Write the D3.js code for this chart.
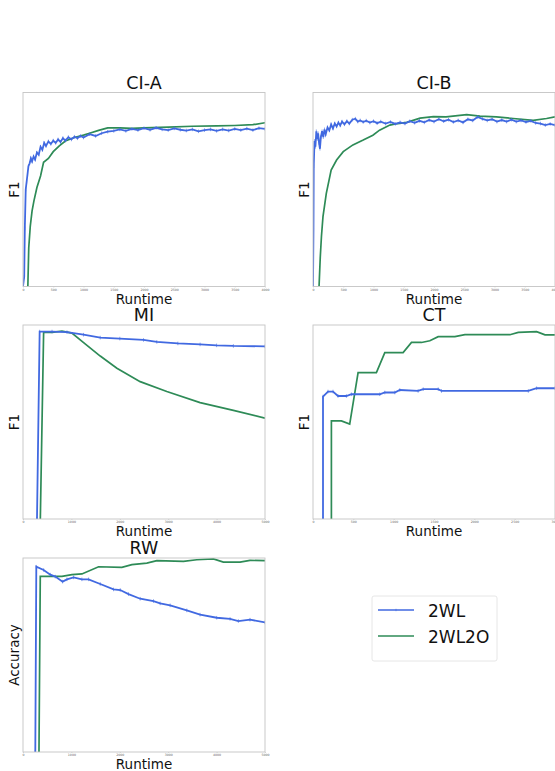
<!DOCTYPE html>
<html>
<head>
<meta charset="utf-8">
<script src="https://cdn.jsdelivr.net/npm/d3@7"></script>
<style>
  html, body { margin: 0; padding: 0; background: #fff; }
  svg { display: block; font-family: "DejaVu Sans", sans-serif; }
</style>
</head>
<body>
<svg id="chart" width="555" height="771"></svg>
<script>
// series: [runtime, score] pairs (score as fraction of the axis)
const ciaBlue = [[0,0],[20,0.05],[30,0.3],[45,0.5],[60,0.54],[75,0.58],[90,0.62],[110,0.635],[130,0.66],[150,0.645],[175,0.67],[200,0.655],[230,0.69],[260,0.68],[290,0.72],[320,0.705],[350,0.74],[380,0.725],[420,0.748],[460,0.735],[500,0.752],[540,0.74],[580,0.758],[620,0.745],[660,0.765],[700,0.752],[750,0.77],[800,0.758],[850,0.772],[900,0.764],[950,0.776],[1000,0.768],[1100,0.785],[1200,0.776],[1300,0.79],[1400,0.798],[1500,0.802],[1600,0.81],[1700,0.802],[1800,0.812],[1900,0.806],[2000,0.816],[2100,0.808],[2200,0.818],[2300,0.81],[2400,0.806],[2500,0.815],[2600,0.808],[2700,0.804],[2800,0.81],[2900,0.80],[3000,0.806],[3100,0.81],[3200,0.802],[3300,0.81],[3400,0.804],[3500,0.812],[3600,0.806],[3700,0.814],[3800,0.806],[3900,0.816],[4000,0.812]];
const ciaGreen = [[80,0],[95,0.2],[120,0.31],[150,0.39],[180,0.44],[230,0.51],[290,0.57],[340,0.64],[420,0.66],[500,0.695],[600,0.725],[700,0.75],[850,0.768],[1000,0.78],[1100,0.79],[1250,0.805],[1400,0.818],[1600,0.818],[1800,0.815],[2000,0.818],[2400,0.822],[2800,0.826],[3200,0.828],[3500,0.83],[3800,0.834],[4000,0.844]];

const cibBlue = [[0,0],[8,0.3],[12,0.62],[25,0.75],[40,0.72],[55,0.8],[70,0.76],[85,0.79],[100,0.74],[115,0.71],[130,0.77],[150,0.8],[170,0.77],[190,0.81],[210,0.785],[240,0.82],[270,0.805],[300,0.835],[330,0.815],[360,0.84],[390,0.825],[420,0.845],[450,0.83],[480,0.85],[520,0.836],[560,0.852],[600,0.84],[650,0.86],[700,0.865],[740,0.85],[780,0.856],[830,0.848],[880,0.855],[940,0.845],[1000,0.852],[1060,0.842],[1120,0.85],[1200,0.84],[1280,0.848],[1360,0.838],[1440,0.846],[1520,0.84],[1600,0.852],[1680,0.844],[1760,0.854],[1840,0.846],[1920,0.858],[2000,0.85],[2080,0.862],[2160,0.852],[2240,0.86],[2320,0.848],[2400,0.856],[2480,0.846],[2560,0.862],[2640,0.856],[2720,0.874],[2800,0.864],[2880,0.856],[2960,0.862],[3040,0.85],[3120,0.858],[3200,0.85],[3280,0.86],[3360,0.85],[3440,0.856],[3520,0.848],[3600,0.854],[3680,0.843],[3760,0.84],[3840,0.832],[3920,0.838],[4000,0.832]];
const cibGreen = [[100,0],[120,0.15],[140,0.26],[165,0.36],[220,0.48],[300,0.6],[390,0.652],[500,0.695],[660,0.73],[830,0.755],[990,0.78],[1100,0.806],[1270,0.832],[1400,0.84],[1550,0.846],[1770,0.868],[1990,0.876],[2200,0.874],[2540,0.886],[2760,0.878],[3030,0.874],[3310,0.866],[3640,0.856],[3860,0.866],[4000,0.874]];

const miBlue = [[289,0],[344,0.966],[600,0.966],[908,0.963],[1250,0.95],[1596,0.935],[2000,0.93],[2490,0.923],[2765,0.913],[3200,0.905],[3659,0.90],[4000,0.895],[4347,0.892],[5000,0.89]];
const miGreen = [[358,0],[426,0.962],[600,0.962],[805,0.968],[1011,0.958],[1252,0.909],[1596,0.84],[1940,0.777],[2421,0.708],[2971,0.657],[3659,0.6],[4347,0.56],[5000,0.52]];

const ctBlue = [[124,0],[124,0.631],[186,0.657],[248,0.657],[310,0.634],[414,0.634],[476,0.643],[828,0.643],[890,0.652],[1014,0.652],[1076,0.665],[1303,0.66],[1366,0.669],[1552,0.669],[1593,0.66],[2669,0.66],[2772,0.674],[3000,0.674]];
const ctGreen = [[228,0],[228,0.506],[352,0.506],[455,0.489],[559,0.755],[786,0.755],[890,0.858],[1117,0.858],[1221,0.91],[1345,0.91],[1448,0.919],[1552,0.94],[1759,0.94],[1883,0.95],[2441,0.95],[2545,0.962],[2772,0.966],[2876,0.949],[3000,0.949]];

const rwBlue = [[254,0],[275,0.955],[426,0.938],[564,0.914],[667,0.904],[818,0.878],[908,0.89],[1045,0.90],[1217,0.89],[1355,0.89],[1596,0.866],[1871,0.838],[2009,0.835],[2180,0.814],[2421,0.79],[2696,0.778],[2834,0.766],[3040,0.756],[3384,0.73],[3659,0.708],[4003,0.692],[4278,0.686],[4450,0.675],[4690,0.682],[5000,0.668]];
const rwGreen = [[330,0],[357,0.905],[805,0.905],[1011,0.914],[1217,0.918],[1561,0.955],[2043,0.952],[2249,0.966],[2559,0.974],[2765,0.986],[3315,0.983],[3590,0.991],[3934,0.995],[4140,0.979],[4484,0.979],[4690,0.988],[5000,0.986]];

const seriesNames = ["2WL", "2WL2O"];
const titles = ["CI-A", "CI-B", "MI", "CT", "RW"];
const yLabels = ["F1", "F1", "F1", "F1", "Accuracy"];
const xMax = [4000, 4000, 5000, 3000, 5000];
const xStep = [500, 500, 1000, 500, 1000];

const C = { blue: "#4169e1", green: "#2e8b57", frame: "#c4c4c4", text: "#111" };

const panels = [
  { left: 23, top: 92.5, blue: ciaBlue, green: ciaGreen },
  { left: 313, top: 92.5, blue: cibBlue, green: cibGreen },
  { left: 23, top: 325, blue: miBlue, green: miGreen },
  { left: 313, top: 325, blue: ctBlue, green: ctGreen },
  { left: 23, top: 558, blue: rwBlue, green: rwGreen }
];
const W = 242, H = 194;

const svg = d3.select("#chart");
const defs = svg.append("defs");

panels.forEach((p, i) => {
  const g = svg.append("g").attr("transform", `translate(${p.left},${p.top})`);
  const x = d3.scaleLinear().domain([0, xMax[i]]).range([0, W]);
  const y = d3.scaleLinear().domain([0, 1]).range([H, 0]);

  defs.append("clipPath").attr("id", "clip" + i)
    .append("rect").attr("x", 0).attr("y", -1).attr("width", W).attr("height", H + 1);

  // tiny x ticks
  const ax = g.append("g").attr("transform", `translate(0,${H})`)
    .call(d3.axisBottom(x).tickValues(d3.range(0, xMax[i] + 1, xStep[i])).tickSize(1).tickPadding(1).tickFormat(d3.format("d")));
  ax.select(".domain").remove();
  ax.selectAll("line").attr("stroke", "#999").attr("stroke-width", 0.4);
  ax.selectAll("text").attr("font-size", "3.2px").attr("fill", "#666").attr("font-family", "DejaVu Sans");

  const lines = g.append("g").attr("clip-path", `url(#clip${i})`);
  const line = d3.line().x(d => x(d[0])).y(d => y(d[1]));

  lines.append("path").datum(p.green)
    .attr("fill", "none").attr("stroke", C.green).attr("stroke-width", 1.7).attr("d", line);
  lines.append("path").datum(p.blue)
    .attr("fill", "none").attr("stroke", C.blue).attr("stroke-width", 1.8).attr("d", line);
  lines.selectAll(".mk").data(p.blue).enter().append("line")
    .attr("class", "mk")
    .attr("x1", d => x(d[0])).attr("x2", d => x(d[0]))
    .attr("y1", d => y(d[1]) - 1.8).attr("y2", d => y(d[1]) + 1.8)
    .attr("stroke", C.blue).attr("stroke-width", 0.6);

  g.append("rect").attr("width", W).attr("height", H)
    .attr("fill", "none").attr("stroke", C.frame).attr("stroke-width", 0.9);

  g.append("text").attr("x", W / 2).attr("y", -4)
    .attr("text-anchor", "middle").attr("font-size", "17.5px").attr("fill", C.text)
    .text(titles[i]);

  g.append("text").attr("x", W / 2).attr("y", H + 17)
    .attr("text-anchor", "middle").attr("font-size", "13.5px").attr("fill", C.text)
    .text("Runtime");

  g.append("text")
    .attr("transform", `translate(-4,${H / 2}) rotate(-90)`)
    .attr("text-anchor", "middle").attr("font-size", "13.5px").attr("fill", C.text)
    .text(yLabels[i]);
});

// legend
const lg = svg.append("g").attr("transform", "translate(372,596)");
lg.append("rect").attr("width", 125).attr("height", 65).attr("rx", 2)
  .attr("fill", "#fff").attr("stroke", "#e0e0e0").attr("stroke-width", 0.8);
[C.blue, C.green].forEach((col, k) => {
  const yy = 14 + k * 26;
  lg.append("line").attr("x1", 6).attr("x2", 42).attr("y1", yy).attr("y2", yy)
    .attr("stroke", col).attr("stroke-width", 1.3);
  if (k === 0) lg.append("line").attr("x1", 24).attr("x2", 24).attr("y1", yy - 1.2).attr("y2", yy + 1.2)
    .attr("stroke", col).attr("stroke-width", 0.6);
  lg.append("text").attr("x", 56).attr("y", yy + 7).attr("font-size", "17px").attr("fill", C.text)
    .text(seriesNames[k]);
});
</script>
</body>
</html>
